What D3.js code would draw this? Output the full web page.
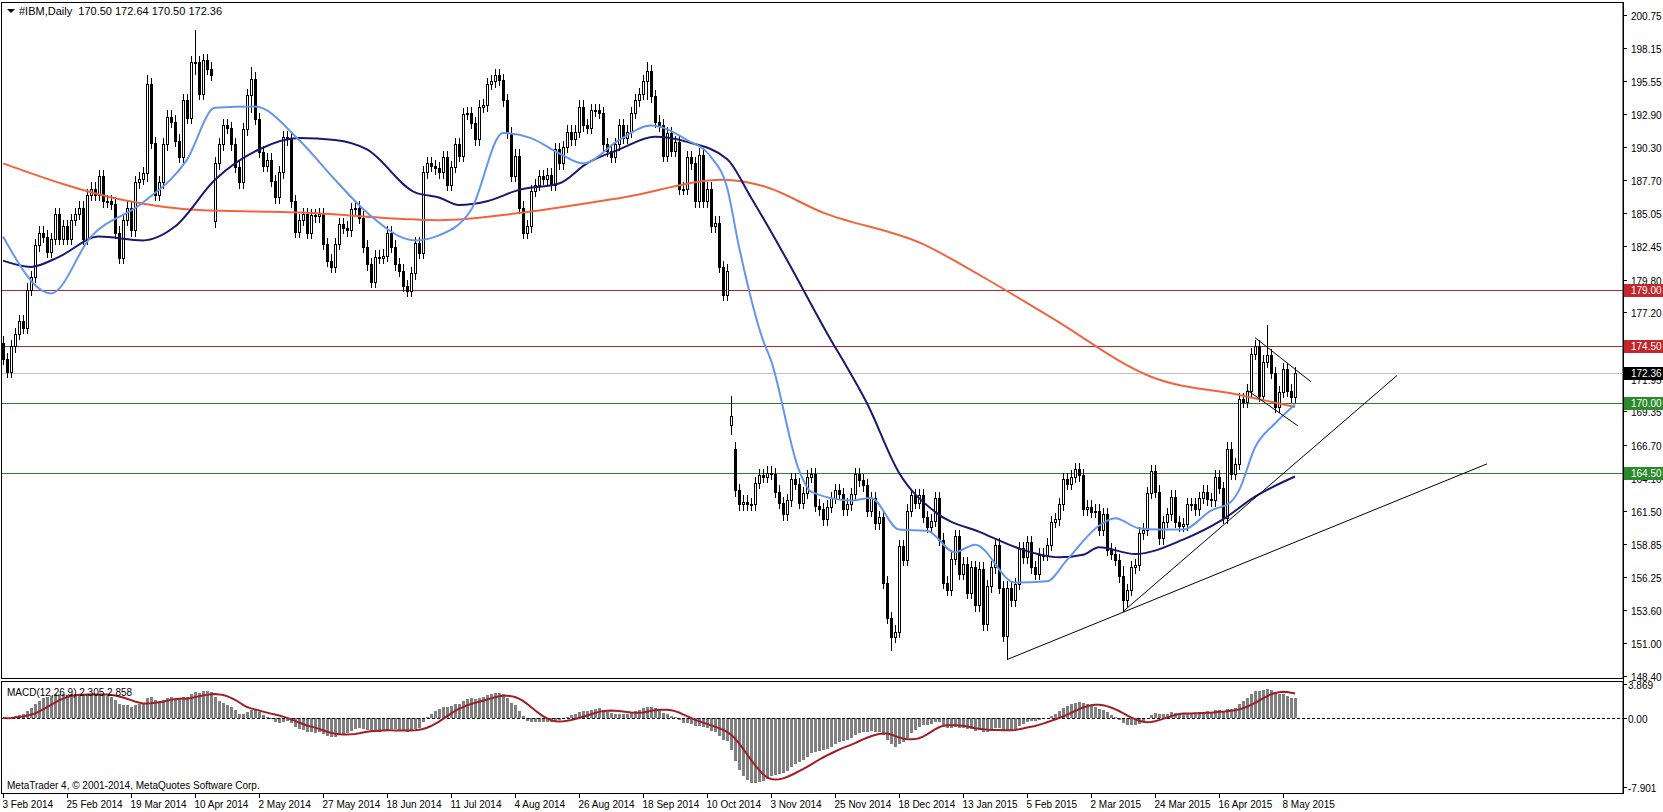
<!DOCTYPE html>
<html lang="en">
<head>
<meta charset="UTF-8">
<title>#IBM,Daily</title>
<script src="https://d3js.org/d3.v7.min.js"></script>
<style>
  body { margin: 0; background: #fff; }
  svg { display: block; font-family: "Liberation Sans", Arial, sans-serif; }
</style>
</head>
<body>
<script>
// daily closes, 3 Feb 2014 .. 12 May 2015
const closes = [
  173.5,172.5,174.5,175.5,176.5,176.0,179.0,180.0,182.5,183.5,183.2,182.0,183.0,185.0,183.0,184.0,183.0,184.5,185.0,185.5,
  183.0,186.5,187.0,186.5,188.0,186.0,186.0,185.8,183.5,181.5,184.5,185.5,183.7,187.5,187.8,188.2,195.3,190.6,186.5,187.5,
  190.5,192.7,192.3,190.8,189.5,194.0,192.6,197.0,197.0,194.5,197.2,196.5,196.0,189.0,190.5,192.0,191.8,190.5,188.7,187.5,
  191.7,194.4,195.7,192.5,189.9,188.8,189.3,187.6,186.3,188.3,191.1,190.9,186.0,183.6,184.5,185.0,183.5,184.9,184.8,185.0,
  182.6,181.3,180.8,182.6,184.2,183.9,183.7,185.4,185.5,184.7,182.4,181.0,179.6,181.6,181.5,181.7,183.5,182.4,181.0,180.5,
  179.3,178.9,180.3,182.7,181.9,188.3,189.0,188.8,188.6,188.3,189.5,187.3,188.7,190.5,189.6,192.9,193.0,192.2,190.9,193.5,
  193.6,195.3,195.5,196.0,195.6,194.0,191.4,188.0,189.6,185.5,183.5,184.0,186.8,187.3,188.0,187.8,188.1,187.3,190.1,189.0,
  190.3,191.5,190.9,191.5,193.5,192.0,191.8,193.2,193.2,193.0,190.5,190.0,189.5,190.5,192.0,191.0,191.5,193.0,194.0,194.5,
  195.5,196.3,194.3,192.3,192.0,189.6,191.4,190.0,190.7,187.0,187.0,189.5,189.0,186.0,189.7,186.0,187.0,184.0,184.3,180.8,
  178.6,180.5,169.0,163.1,162.0,162.2,162.0,162.0,163.7,164.3,164.2,164.5,164.4,163.0,162.1,161.2,162.3,164.0,163.6,162.1,
  162.9,164.2,164.4,161.9,161.6,160.8,161.8,162.5,163.1,162.8,161.6,162.0,162.8,164.4,163.9,163.5,161.5,162.5,160.5,161.0,
  155.8,153.0,151.5,151.9,158.7,157.6,161.5,162.7,162.1,162.7,161.0,160.2,160.7,162.5,159.2,155.8,155.2,157.7,159.5,156.5,
  157.3,155.0,157.0,154.0,156.9,152.5,155.5,157.0,158.8,155.4,151.6,155.4,154.4,155.7,158.5,157.8,159.0,157.0,156.5,158.0,
  158.0,158.8,160.6,160.8,162.0,164.0,163.6,164.2,164.8,164.3,161.6,161.8,161.4,161.5,160.0,161.2,158.4,158.1,157.6,156.3,
  154.4,155.2,157.0,157.2,159.7,160.0,162.9,164.6,163.0,159.3,160.6,161.2,162.6,160.6,160.3,160.4,162.0,162.0,161.6,162.5,
  163.0,162.4,162.3,164.2,163.3,160.9,166.4,164.4,165.2,170.3,170.1,171.0,173.9,174.5,170.6,173.3,173.8,172.4,169.7,170.9,
  172.7,171.0,170.5,172.36
];
// opens that gap away from the previous close: [bar, open]
const gapOpens = [[0, 174.8], [53, 184.4], [105, 181.9], [182, 168.3], [183, 166.4]];
// long wicks: [bar, high, low]
const wickExtremes = [[36, 196.0, 187.5], [48, 199.6, 196.0], [62, 196.6, 193.0], [161, 197.0, 194.0],
  [180, 179.5, 178.2], [182, 170.6, 167.5], [222, 152.6, 150.4], [251, 155.8, 149.7], [280, 157.1, 153.5],
  [316, 176.2, 172.8]];

// moving averages, [bar, value]
const maFast = [[0,183.2],[12,178.7],[22,183.2],[35,185.9],[46,189.3],[53,193.4],[63,193.5],[74,190.85],[83,187.7],
  [91,185.1],[103,182.9],[109,183.3],[117,185.3],[125,191.4],[132,191.0],[139,189.8],[145,189.0],[154,190.85],
  [162,192.0],[171,190.85],[177,189.5],[181,187.1],[184,182.4],[190,175.0],[192,173.4],[199,164.7],[202,163.0],
  [212,162.3],[217,162.5],[224,160.0],[231,159.9],[238,158.2],[243,158.8],[253,155.8],[261,155.9],[266,157.6],
  [274,160.3],[278,160.9],[284,160.1],[289,160.0],[295,160.0],[302,161.5],[307,162.2],[309,163.1],[313,166.5],
  [318,168.4],[323,169.9]];
const maMid = [[0,181.3],[7,180.8],[14,181.6],[24,183.2],[35,182.9],[43,184.0],[53,187.7],[64,190.1],[74,191.0],
  [83,190.85],[91,190.1],[103,186.7],[109,186.3],[114,185.7],[121,186.0],[129,186.9],[139,187.4],[146,189.0],
  [154,190.1],[163,191.1],[171,190.7],[181,189.35],[187,186.3],[196,181.35],[207,175.0],[210,173.4],[216,170.0],
  [224,164.5],[233,161.4],[245,159.7],[254,158.5],[264,157.8],[270,158.0],[274,158.6],[283,158.06],[295,159.2],
  [305,160.8],[313,162.6],[323,164.2]];
const maSlow = [[0,189.0],[30,186.1],[49,185.3],[75,185.1],[100,184.6],[109,184.5],[130,185.1],[155,186.3],
  [180,187.7],[190,187.2],[205,185.1],[230,182.6],[245,180.0],[262,176.8],[287,172.1],[310,170.6],[323,169.7]];

// drawn objects
const trendLines = [
  [[251, 149.7], [371, 165.2]],
  [[280, 153.5], [348.5, 172.2]],
  [[313, 175.2], [327, 171.7]],
  [[311, 171.05], [323.75, 168.2]]
];
const levelsRed = [179.00, 174.50];
const levelsGreen = [170.00, 164.50];
const bidPrice = 172.36;

const priceTicks = ["200.75","198.15","195.55","192.90","190.30","187.70","185.05","182.45","179.80","177.20",
  "174.55","171.95","169.35","166.70","164.10","161.50","158.85","156.25","153.60","151.00","148.40"];
const macdTicks = ["3.869", "0.00", "-7.901"];
const dateLabels = ["3 Feb 2014","25 Feb 2014","19 Mar 2014","10 Apr 2014","2 May 2014","27 May 2014","18 Jun 2014",
  "11 Jul 2014","4 Aug 2014","26 Aug 2014","18 Sep 2014","10 Oct 2014","3 Nov 2014","25 Nov 2014","18 Dec 2014",
  "13 Jan 2015","5 Feb 2015","2 Mar 2015","24 Mar 2015","16 Apr 2015","8 May 2015"];

const W = 1663, H = 812, axisX = 1623;
const svg = d3.select("body").append("svg").attr("width", W).attr("height", H);

const x = d3.scaleLinear().domain([0, 405]).range([3, 1623]);
const y = d3.scaleLinear().domain([148.40, 200.75]).range([676, 15]);
const ym = d3.scaleLinear().domain([-7.901, 3.869]).range([787, 684]);

// clip for the main panel
svg.append("clipPath").attr("id", "main").append("rect").attr("x", 2).attr("y", 3).attr("width", axisX - 2).attr("height", 675);
svg.append("clipPath").attr("id", "sub").append("rect").attr("x", 2).attr("y", 682).attr("width", axisX - 2).attr("height", 111);

// frames
svg.append("rect").attr("x", 1.5).attr("y", 2.5).attr("width", axisX - 1.5).attr("height", 676)
  .attr("fill", "none").attr("stroke", "#000");
svg.append("rect").attr("x", 1.5).attr("y", 681.5).attr("width", axisX - 1.5).attr("height", 112)
  .attr("fill", "none").attr("stroke", "#000");

const main = svg.append("g").attr("clip-path", "url(#main)");

// horizontal levels
main.append("line").attr("x1", 2).attr("x2", axisX).attr("y1", y(bidPrice)).attr("y2", y(bidPrice)).attr("stroke", "#c0c0c0");
levelsRed.forEach(v => main.append("line").attr("x1", 2).attr("x2", axisX).attr("y1", Math.round(y(v)) + 0.5)
  .attr("y2", Math.round(y(v)) + 0.5).attr("stroke", "#a52a2a"));
levelsGreen.forEach(v => main.append("line").attr("x1", 2).attr("x2", axisX).attr("y1", Math.round(y(v)) + 0.5)
  .attr("y2", Math.round(y(v)) + 0.5).attr("stroke", "#2e7d32"));

// candles
const wickMap = new Map(wickExtremes.map(d => [d[0], d]));
const gapMap = new Map(gapOpens);
const bars = closes.map((c, i) => {
  const o = gapMap.has(i) ? gapMap.get(i) : closes[i - 1];
  let hi = Math.max(o, c) + 0.5, lo = Math.min(o, c) - 0.5;
  if (wickMap.has(i)) { hi = Math.max(hi, wickMap.get(i)[1]); lo = Math.min(lo, wickMap.get(i)[2]); }
  return { i, o, c, hi, lo };
});
const cg = main.append("g").attr("shape-rendering", "crispEdges");
bars.forEach(b => {
  const cx = Math.round(x(b.i)) + 0.5;
  cg.append("line").attr("x1", cx).attr("x2", cx).attr("y1", y(b.hi)).attr("y2", y(b.lo)).attr("stroke", "#000");
  const top = Math.round(y(Math.max(b.o, b.c))), bot = Math.round(y(Math.min(b.o, b.c)));
  cg.append("rect").attr("x", cx - 1).attr("y", top + 0.5).attr("width", 2).attr("height", Math.max(bot - top, 1))
    .attr("fill", b.c >= b.o ? "#fff" : "#000").attr("stroke", "#000");
});

// moving averages
const maLine = d3.line().x(d => x(d[0])).y(d => y(d[1])).curve(d3.curveMonotoneX);
main.append("path").datum(maSlow).attr("d", maLine).attr("fill", "none").attr("stroke", "#f26440").attr("stroke-width", 2);
main.append("path").datum(maMid).attr("d", maLine).attr("fill", "none").attr("stroke", "#191970").attr("stroke-width", 2);
main.append("path").datum(maFast).attr("d", maLine).attr("fill", "none").attr("stroke", "#6495ed").attr("stroke-width", 2);

// trend lines
trendLines.forEach(t => main.append("line")
  .attr("x1", x(t[0][0])).attr("y1", y(t[0][1])).attr("x2", x(t[1][0])).attr("y2", y(t[1][1]))
  .attr("stroke", "#000").attr("stroke-width", 1));

// header
svg.append("path").attr("d", "M7,9 L15,9 L11,13 Z").attr("fill", "#000");
svg.append("text").attr("x", 19).attr("y", 15).attr("font-size", 11).attr("fill", "#000")
  .attr("xml:space", "preserve").text("#IBM,Daily  170.50 172.64 170.50 172.36");

// price axis
svg.append("line").attr("x1", axisX + 0.5).attr("x2", axisX + 0.5).attr("y1", 2).attr("y2", 794).attr("stroke", "#000");
priceTicks.forEach(t => {
  const ty = Math.round(y(+t)) + 0.5;
  svg.append("line").attr("x1", axisX).attr("x2", axisX + 4).attr("y1", ty).attr("y2", ty).attr("stroke", "#000");
  svg.append("text").attr("x", axisX + 8).attr("y", ty + 4).attr("font-size", 10).text(t);
});
function tag(v, bg, label) {
  const ty = Math.round(y(v));
  svg.append("rect").attr("x", axisX + 1).attr("y", ty - 6).attr("width", W - axisX - 1).attr("height", 13).attr("fill", bg);
  svg.append("text").attr("x", axisX + 8).attr("y", ty + 4).attr("font-size", 10).attr("fill", "#fff").text(label);
}
levelsRed.forEach(v => tag(v, "#c1272d", v.toFixed(2)));
levelsGreen.forEach(v => tag(v, "#2b8a2b", v.toFixed(2)));
tag(bidPrice, "#000", bidPrice.toFixed(2));

// MACD(12,26,9): EMA12 - EMA26, signal = SMA9
const ema = (arr, n) => { const k = 2 / (n + 1); let e = arr[0]; return arr.map(v => (e = v * k + e * (1 - k))); };
const e12 = ema(closes, 12), e26 = ema(closes, 26);
const macd = closes.map((_, i) => e12[i] - e26[i]);
const signal = macd.map((_, i) => d3.mean(macd.slice(Math.max(0, i - 8), i + 1)));

const sub = svg.append("g").attr("clip-path", "url(#sub)");
sub.append("g").attr("shape-rendering", "crispEdges").selectAll("rect").data(macd).join("rect")
  .attr("x", (d, i) => Math.round(x(i)) - 1).attr("width", 3)
  .attr("y", d => Math.min(ym(d), ym(0))).attr("height", d => Math.abs(ym(d) - ym(0)))
  .attr("fill", "#808080");
sub.append("line").attr("x1", 2).attr("x2", axisX).attr("y1", Math.round(ym(0)) + 0.5).attr("y2", Math.round(ym(0)) + 0.5)
  .attr("stroke", "#000").attr("stroke-dasharray", "3,2");
sub.append("path").datum(signal).attr("d", d3.line().x((d, i) => x(i)).y(d => ym(d)))
  .attr("fill", "none").attr("stroke", "#a01e28").attr("stroke-width", 2);

macdTicks.forEach(t => {
  const ty = Math.round(ym(+t)) + 0.5;
  svg.append("line").attr("x1", axisX).attr("x2", axisX + 4).attr("y1", ty).attr("y2", ty).attr("stroke", "#000");
  svg.append("text").attr("x", axisX + 5).attr("y", ty + 4).attr("font-size", 10).text(t);
});
svg.append("text").attr("x", 7).attr("y", 696).attr("font-size", 10).text("MACD(12,26,9) 2.305 2.858");
svg.append("text").attr("x", 7).attr("y", 789).attr("font-size", 10)
  .text("MetaTrader 4, \u00a9 2001-2014, MetaQuotes Software Corp.");

// date axis
dateLabels.forEach((t, k) => {
  const tx = Math.round(x(k * 16)) + 0.5;
  svg.append("line").attr("x1", tx).attr("x2", tx).attr("y1", 794).attr("y2", 798).attr("stroke", "#000");
  svg.append("text").attr("x", tx - 1).attr("y", 808).attr("font-size", 10).text(t);
});
</script>
</body>
</html>
